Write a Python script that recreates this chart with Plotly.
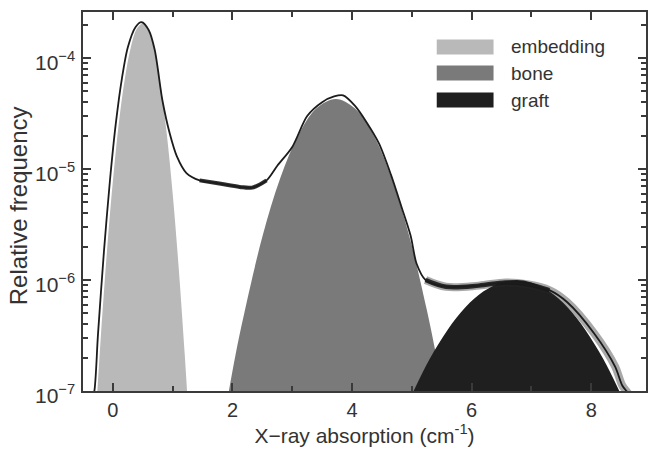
import numpy as np
import plotly.graph_objects as go

# ---- data ----
emb_x = [-0.26, -0.2, -0.1, 0.0, 0.1, 0.2, 0.3, 0.4, 0.49, 0.6, 0.7, 0.8, 0.9, 1.0, 1.1, 1.2, 1.24]
emb_y = [1.0e-7, 3.2e-7, 1.8e-6, 7.8e-6, 2.6e-5, 6.5e-5, 1.25e-4, 1.83e-4, 2.04e-4, 1.73e-4,
         1.12e-4, 5.5e-5, 2.1e-5, 6.0e-6, 1.3e-6, 2.2e-7, 1.0e-7]

bone_x = [1.94, 2.05, 2.2, 2.5, 2.8, 3.1, 3.4, 3.73, 4.05, 4.35, 4.65, 4.95, 5.25, 5.4, 5.52]
bone_y = [1.0e-7, 2.1e-7, 5.1e-7, 2.45e-6, 8.3e-6, 2.0e-5, 3.5e-5, 4.27e-5, 3.5e-5, 2.07e-5,
          8.6e-6, 2.57e-6, 5.4e-7, 2.2e-7, 1.0e-7]

graft_x = [5.03, 5.3, 5.6, 5.9, 6.2, 6.5, 6.75, 7.0, 7.3, 7.6, 7.9, 8.2, 8.47]
graft_y = [1.0e-7, 1.95e-7, 3.57e-7, 5.7e-7, 7.9e-7, 9.5e-7, 1.0e-6, 9.5e-7, 7.9e-7, 5.7e-7,
           3.57e-7, 1.95e-7, 1.0e-7]

meas_x = [-0.36, -0.31, -0.25, -0.15, -0.05, 0.05, 0.15, 0.25, 0.38, 0.48, 0.6, 0.7, 0.83, 0.95,
          1.07, 1.23, 1.45, 1.78, 2.12, 2.33, 2.57, 2.75, 3.0, 3.25, 3.5, 3.7, 3.85, 4.05, 4.25,
          4.45, 4.65, 4.83, 4.98, 5.08, 5.23, 5.57, 6.12, 6.57, 6.95, 7.3, 7.6, 8.05, 8.4, 8.52,
          8.62, 8.68]
meas_y = [0.8e-7, 1.0e-7, 3.2e-7, 1.8e-6, 7.8e-6, 2.6e-5, 6.5e-5, 1.25e-4, 1.9e-4, 2.1e-4,
          1.78e-4, 1.18e-4, 4.1e-5, 2.1e-5, 1.3e-5, 9.2e-6, 7.9e-6, 7.4e-6, 6.9e-6, 6.8e-6,
          7.9e-6, 1.07e-5, 1.58e-5, 3.0e-5, 4.0e-5, 4.5e-5, 4.6e-5, 3.7e-5, 2.6e-5, 1.7e-5,
          8.9e-6, 4.5e-6, 2.5e-6, 1.4e-6, 1.0e-6, 8.7e-7, 8.9e-7, 9.5e-7, 9.1e-7, 8.1e-7,
          6.3e-7, 3.3e-7, 1.66e-7, 1.12e-7, 0.95e-7, 0.8e-7]

legend_labels = ["embedding", "bone", "graft"]
x_major = [0, 2, 4, 6, 8]
x_minor = [1, 3, 5, 7]
y_major = [1e-7, 1e-6, 1e-5, 1e-4]
y_major_text = ["10<sup>−7</sup>", "10<sup>−6</sup>", "10<sup>−5</sup>", "10<sup>−4</sup>"]
y_minor = [m * 10.0 ** e for e in (-7, -6, -5, -4) for m in range(2, 10)]
x_title = "X−ray absorption (cm<sup>-1</sup>)"
y_title = "Relative frequency"

# ---- styles ----
colors = ["#b9b9b9", "#7a7a7a", "#1f1f1f"]
line_col = "#1c1c1c"
axis_col = "#3a3a3a"
text_col = "#333333"
FONT = "Liberation Sans, Arial, sans-serif"

W, H = 650, 452
ML, MR, MT, MB = 83, 2, 12, 61
pw = W - ML - MR
ph = H - MT - MB

fig = go.Figure()
for xs, ys, c in zip([emb_x, bone_x, graft_x], [emb_y, bone_y, graft_y], colors):
    fig.add_trace(go.Scatter(x=xs, y=ys, mode="lines", fill="toself", fillcolor=c,
                             line=dict(width=0, color=c, shape="spline", smoothing=1.0),
                             showlegend=False, hoverinfo="skip"))

mx = np.array(meas_x)
my = np.array(meas_y)
# noisy band overlays (same measured data, selected ranges)
m_r = (mx >= 5.2) & (mx <= 8.7)
fig.add_trace(go.Scatter(x=mx[m_r], y=my[m_r], mode="lines",
                         line=dict(width=8, color="rgba(40,40,40,0.4)", shape="spline"),
                         showlegend=False, hoverinfo="skip"))
m_r2 = (mx >= 5.2) & (mx <= 7.4)
fig.add_trace(go.Scatter(x=mx[m_r2], y=my[m_r2], mode="lines",
                         line=dict(width=4.5, color="rgba(25,25,25,0.9)", shape="spline"),
                         showlegend=False, hoverinfo="skip"))
m_l = (mx >= 1.3) & (mx <= 2.6)
fig.add_trace(go.Scatter(x=mx[m_l], y=my[m_l], mode="lines",
                         line=dict(width=4, color="rgba(25,25,25,0.9)", shape="spline"),
                         showlegend=False, hoverinfo="skip"))
fig.add_trace(go.Scatter(x=meas_x, y=meas_y, mode="lines",
                         line=dict(width=1.8, color=line_col, shape="spline", smoothing=0.8),
                         showlegend=False, hoverinfo="skip"))

# manual legend
sx0, sx1, tx = 438, 495, 511
rows = [47, 73, 100]
for lab, c, ry in zip(legend_labels, colors, rows):
    fig.add_shape(type="rect", xref="paper", yref="paper",
                  x0=(sx0 - ML) / pw, x1=(sx1 - ML) / pw,
                  y0=(H - MB - (ry + 7.5)) / ph, y1=(H - MB - (ry - 7.5)) / ph,
                  fillcolor=c, line=dict(width=0))
    fig.add_annotation(text=lab, xref="paper", yref="paper",
                       x=(tx - ML) / pw, y=(H - MB - ry) / ph, xanchor="left", yanchor="middle",
                       showarrow=False, font=dict(size=19, color=text_col, family=FONT))

# y tick labels as annotations anchored to the log axis
for v, t in zip(y_major, y_major_text):
    fig.add_annotation(text=t, xref="paper", yref="y", x=(77 - ML) / pw, y=np.log10(v),
                       xanchor="right", yanchor="middle", yshift=-3, showarrow=False,
                       font=dict(size=21, color=text_col, family=FONT))

# y-axis title as rotated annotation
fig.add_annotation(text=y_title, xref="paper", yref="paper",
                   x=(18 - ML) / pw, y=(H - MB - 206) / ph, xanchor="center", yanchor="middle",
                   textangle=-90, showarrow=False,
                   font=dict(size=24, color=text_col, family=FONT))

fig.update_layout(
    width=W, height=H,
    margin=dict(l=ML, r=MR, t=MT, b=MB, pad=0),
    plot_bgcolor="white", paper_bgcolor="white",
    font=dict(family=FONT, color=text_col, size=20),
    xaxis=dict(range=[-0.5, -0.5 + pw / 60.0], tickvals=x_major, ticks="inside", ticklen=8,
               tickwidth=1.5, tickcolor=axis_col, showline=True, linecolor=axis_col, linewidth=2,
               mirror="allticks", showgrid=False, zeroline=False,
               tickfont=dict(size=20, family=FONT, color=text_col),
               minor=dict(tickvals=x_minor, ticks="inside", ticklen=5, tickwidth=1.5,
                          tickcolor=axis_col, showgrid=False),
               title=dict(text=x_title, standoff=8,
                          font=dict(size=21, family=FONT, color=text_col))),
    yaxis=dict(type="log", range=[-7, -7 + ph / 111.0], tickvals=y_major,
               showticklabels=False,
               ticks="inside", ticklen=8, tickwidth=1.5, tickcolor=axis_col,
               showline=True, linecolor=axis_col, linewidth=2, mirror="allticks",
               showgrid=False, zeroline=False,
               minor=dict(tickvals=y_minor, ticks="inside", ticklen=5, tickwidth=1.5,
                          tickcolor=axis_col, showgrid=False)),
)

fig.write_html("out.html")
